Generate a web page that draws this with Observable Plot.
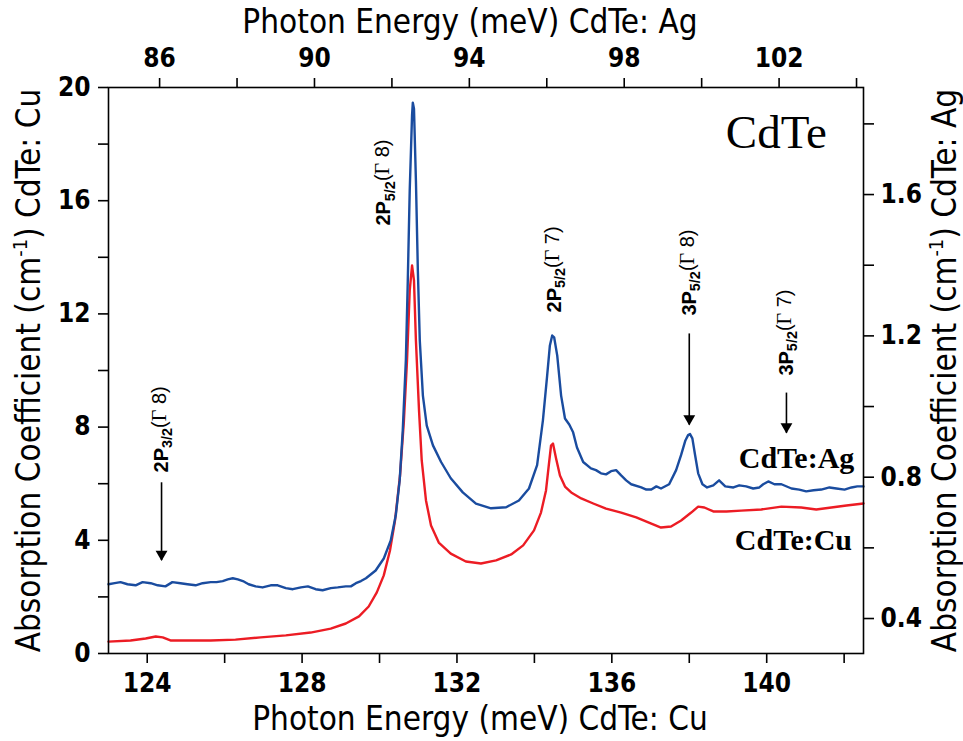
<!DOCTYPE html>
<html><head><meta charset="utf-8">
<script src="https://cdn.jsdelivr.net/npm/d3@7"></script>
<script src="https://cdn.jsdelivr.net/npm/@observablehq/plot@0.6"></script>
<style>body{margin:0;background:#fff;}</style>
</head><body><div id="chart"></div>
<script>
// ---- Data: CdTe:Cu (bottom axis meV, left axis cm^-1) ----
const cuEnergy = [123.0,123.57,123.96,124.22,124.40,124.60,124.99,125.64,126.28,126.93,127.58,128.22,128.74,129.13,129.47,129.72,129.93,130.11,130.27,130.40,130.53,130.63,130.71,130.78,130.84,130.89,130.94,131.02,131.09,131.20,131.33,131.53,131.84,132.23,132.62,133.01,133.40,133.71,133.99,134.17,134.30,134.38,134.43,134.48,134.56,134.66,134.79,134.95,135.21,135.52,135.85,136.24,136.63,137.02,137.27,137.53,137.79,138.05,138.23,138.39,138.62,138.96,139.34,139.86,140.38,140.89,141.28,141.67,142.06,142.5];
const cuAbs = [0.42,0.46,0.53,0.60,0.57,0.46,0.46,0.46,0.49,0.57,0.64,0.74,0.88,1.06,1.31,1.66,2.16,2.76,3.64,4.70,6.29,8.23,10.35,12.83,13.71,13.18,11.06,8.59,6.82,5.41,4.52,3.92,3.53,3.25,3.18,3.29,3.50,3.82,4.35,4.98,5.76,6.75,7.35,7.42,6.89,6.29,5.90,5.69,5.48,5.30,5.12,4.98,4.81,4.59,4.45,4.49,4.70,4.98,5.19,5.16,5.02,5.02,5.05,5.09,5.19,5.16,5.09,5.16,5.23,5.30];

// ---- Data: CdTe:Ag (top axis meV, right axis cm^-1) ----
const agEnergy = [84.68,84.84,84.99,85.17,85.38,85.56,85.77,85.95,86.15,86.33,86.54,86.72,86.93,87.11,87.32,87.47,87.63,87.76,87.89,88.02,88.15,88.30,88.48,88.66,88.87,89.05,89.26,89.44,89.65,89.83,90.03,90.21,90.42,90.60,90.81,90.94,91.07,91.20,91.33,91.58,91.79,91.97,92.10,92.20,92.28,92.36,92.41,92.46,92.52,92.54,92.57,92.62,92.67,92.72,92.80,92.90,93.06,93.27,93.52,93.83,94.17,94.56,94.95,95.28,95.54,95.75,95.90,96.01,96.08,96.14,96.19,96.27,96.37,96.47,96.58,96.68,96.78,96.94,97.14,97.27,97.40,97.53,97.66,97.79,97.92,98.05,98.18,98.44,98.57,98.70,98.83,98.95,99.16,99.34,99.47,99.58,99.65,99.70,99.76,99.83,99.91,100.02,100.14,100.30,100.45,100.61,100.82,100.97,101.15,101.33,101.49,101.59,101.72,101.88,102.06,102.32,102.52,102.70,102.89,103.09,103.30,103.48,103.69,103.87,104.02,104.18];
const agAbs = [0.497,0.500,0.503,0.497,0.494,0.503,0.500,0.494,0.491,0.503,0.500,0.497,0.494,0.500,0.503,0.503,0.506,0.511,0.514,0.511,0.506,0.497,0.491,0.488,0.494,0.494,0.486,0.483,0.488,0.491,0.483,0.480,0.486,0.488,0.491,0.491,0.500,0.506,0.514,0.536,0.570,0.621,0.692,0.791,0.932,1.131,1.357,1.612,1.824,1.860,1.843,1.640,1.385,1.187,1.031,0.946,0.890,0.843,0.797,0.757,0.725,0.712,0.715,0.734,0.768,0.834,0.961,1.088,1.173,1.201,1.196,1.144,1.031,0.966,0.949,0.927,0.884,0.843,0.825,0.820,0.811,0.808,0.817,0.820,0.805,0.791,0.780,0.771,0.765,0.765,0.774,0.768,0.780,0.820,0.863,0.904,0.919,0.922,0.910,0.863,0.811,0.780,0.771,0.777,0.791,0.774,0.771,0.777,0.774,0.768,0.771,0.780,0.788,0.780,0.780,0.768,0.765,0.760,0.763,0.765,0.771,0.768,0.765,0.771,0.774,0.774];

// ---- Axis ticks ----
const cuTicks = [124,126,128,130,132,134,136,138,140,142];
const cuLabels = [124,128,132,136,140];
const agTicks = [86,88,90,92,94,96,98,100,102,104];
const agLabels = [86,90,94,98,102];
const leftTicks = [0,2,4,6,8,10,12,14,16,18,20];
const leftLabels = [0,4,8,12,16,20];
const rightTicks = [0.4,0.6,0.8,1.0,1.2,1.4,1.6,1.8];
const rightLabels = [0.4,0.8,1.2,1.6];

// ---- Annotations ----
const annoText = ["2P3/2(Γ8)","2P5/2(Γ8)","2P5/2(Γ7)","3P5/2(Γ8)","3P5/2(Γ7)"];
const annoX = [124.37,130.11,134.51,138.0,140.51];
const annoY = [6.4,15.12,12.05,11.94,9.82];
const arrowX = [124.37,138.0,140.51];
const arrowY1 = [6.05,11.31,9.22];
const arrowY2 = [3.3,8.09,7.8];

const sampleText = ["CdTe:Ag","CdTe:Cu"];
const sampleX = [140.77,140.69];
const sampleY = [6.57,3.64];

// dual-axis mapping for the Ag curve
const AG_SHIFT = 38.32;            // Cu meV = Ag meV + shift
const AG0 = 0.301, AG1 = 1.903;    // right-axis range
const agToL = a => (a - AG0) / (AG1 - AG0) * 20;
const lToAg = l => l / 20 * (AG1 - AG0) + AG0;

const cuData = cuEnergy.map((e,i)=>({e, a: cuAbs[i]}));
const agData = agEnergy.map((e,i)=>({e: e + AG_SHIFT, a: agToL(agAbs[i])}));
const annoData = annoText.map((t,i)=>({t, x: annoX[i], y: annoY[i]}));
const arrowData = arrowX.map((x,i)=>({x, y1: arrowY1[i], y2: arrowY2[i]}));
const sampleData = sampleText.map((t,i)=>({t, x: sampleX[i], y: sampleY[i]}));

const NARROW = '"Liberation Sans Narrow","Arial Narrow","DejaVu Sans Condensed",sans-serif';
const SERIF = '"Liberation Serif","Times New Roman",serif';
const RED = "#ec1c24", BLUE = "#1a4c9f";

const chart = Plot.plot({
  width: 963, height: 741,
  marginTop: 87, marginRight: 100, marginBottom: 88, marginLeft: 108,
  x: {domain: [123, 142.5]},
  y: {domain: [0, 20]},
  style: {fontFamily: NARROW, background: "white", color: "black", overflow: "visible"},
  marks: [
    Plot.line(cuData, {x: "e", y: "a", stroke: RED, strokeWidth: 2.4}),
    Plot.line(agData, {x: "e", y: "a", stroke: BLUE, strokeWidth: 2.4}),
    Plot.frame({stroke: "black", strokeWidth: 1.6}),
    Plot.axisX({anchor: "bottom", ticks: cuTicks, tickSize: 10, tickPadding: 10, fontSize: 26,
      tickFormat: d => cuLabels.includes(d) ? String(d) : "", label: null, strokeWidth: 1.6}),
    Plot.axisX({anchor: "top", ticks: agTicks.map(t => t + AG_SHIFT), tickSize: 10, tickPadding: 11, fontSize: 26,
      tickFormat: d => { const e = Math.round(d - AG_SHIFT); return agLabels.includes(e) ? String(e) : ""; },
      label: null, strokeWidth: 1.6}),
    Plot.axisY({anchor: "left", ticks: leftTicks, tickSize: 10, tickPadding: 8, fontSize: 26,
      tickFormat: d => leftLabels.includes(d) ? String(d) : "", label: null, strokeWidth: 1.6}),
    Plot.axisY({anchor: "right", ticks: rightTicks.map(agToL), tickSize: 10, tickPadding: 7, fontSize: 26,
      tickFormat: d => { const a = Math.round(lToAg(d) * 10) / 10; return rightLabels.includes(a) ? a.toFixed(1) : ""; },
      label: null, strokeWidth: 1.6}),
    // axis titles
    Plot.text(["Photon Energy (meV) CdTe: Cu"], {frameAnchor: "bottom", dy: 66, dx: -6, fontSize: 33, textAnchor: "middle", lineAnchor: "middle"}),
    Plot.text(["Photon Energy (meV) CdTe: Ag"], {frameAnchor: "top", dy: -65, dx: -16, fontSize: 33, textAnchor: "middle", lineAnchor: "middle"}),
    Plot.text(["Absorption Coefficient (cm-1) CdTe: Cu"], {frameAnchor: "left", dx: -79, rotate: -90, fontSize: 33, textAnchor: "middle", lineAnchor: "middle"}),
    Plot.text(["Absorption Coefficient (cm-1) CdTe: Ag"], {frameAnchor: "right", dx: 82, rotate: -90, fontSize: 33, textAnchor: "middle", lineAnchor: "middle"}),
    // peak labels
    Plot.text(annoData, {x: "x", y: "y", text: "t", rotate: -90, textAnchor: "start", lineAnchor: "middle",
      fontSize: 20, fontWeight: "bold", fontFamily: '"Liberation Sans",Arial,sans-serif'}),
    Plot.link(arrowData, {x1: "x", x2: "x", y1: "y1", y2: "y2", stroke: "black", strokeWidth: 1.6}),
    Plot.dot(arrowData, {x: "x", y: "y2", symbol: "triangle", r: 4.4, rotate: 180, fill: "black", stroke: "none", dy: -6}),
    // sample labels
    Plot.text(sampleData, {x: "x", y: "y", text: "t", fontSize: 30, fontWeight: "bold", fontFamily: SERIF,
      textAnchor: "middle", lineAnchor: "bottom", letterSpacing: "1px"}),
    Plot.text(["CdTe"], {x: [140.25], y: [17.85], fontSize: 47, fontFamily: SERIF, textAnchor: "middle", lineAnchor: "bottom"})
  ]
});

// bold tick labels
d3.select(chart).selectAll('g[aria-label$="tick label"]').attr("font-weight", "bold");

// rich text: subscripts / superscripts
function add(t, s, attrs) {
  const ts = document.createElementNS("http://www.w3.org/2000/svg", "tspan");
  ts.textContent = s;
  for (const k in attrs) ts.setAttribute(k, attrs[k]);
  t.appendChild(ts);
}
chart.querySelectorAll("text").forEach(t => {
  const s = t.textContent;
  const m = s.match(/^(\d)P(\d\/\d)\(Γ(\d)\)$/);
  if (m) {
    t.textContent = "";
    add(t, m[1] + "P", {});
    add(t, m[2], {"font-size": "0.72em", dy: "0.3em"});
    add(t, "(", {dy: "-0.3em", "font-weight": "normal"});
    add(t, "Γ", {"font-family": SERIF, "font-weight": "normal"});
    add(t, " " + m[3], {"font-weight": "normal"});
    add(t, ")", {"font-weight": "normal"});
    return;
  }
  const k = s.indexOf("(cm-1)");
  if (k >= 0) {
    t.textContent = "";
    add(t, s.slice(0, k) + "(cm", {});
    add(t, "-1", {"font-size": "0.6em", dy: "-0.65em"});
    add(t, ")" + s.slice(k + 6), {dy: "0.4em"});
  }
});

document.getElementById("chart").appendChild(chart);
</script>
</body></html>
